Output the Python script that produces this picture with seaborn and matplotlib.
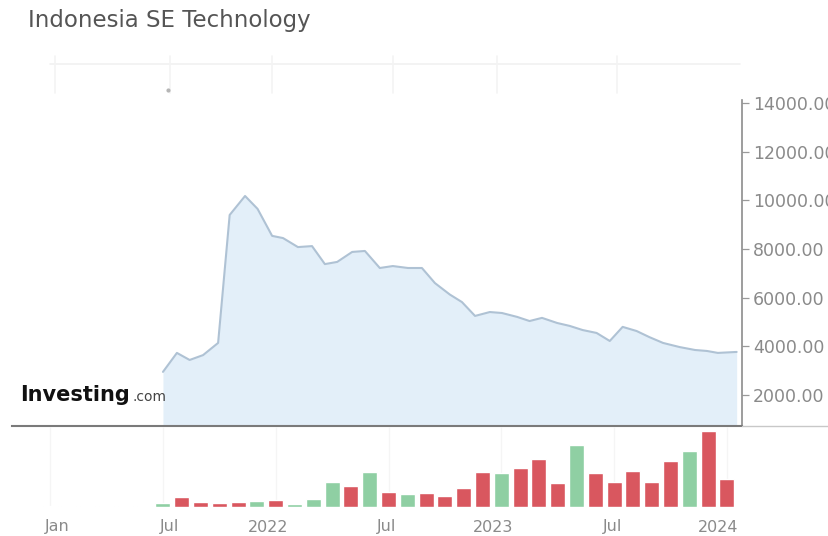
import matplotlib
matplotlib.use("Agg")
import matplotlib.pyplot as plt
import matplotlib.transforms as mtransforms
import numpy as np
import pandas as pd
import seaborn as sns
from matplotlib.lines import Line2D

# ---- data -------------------------------------------------------------
title = "Indonesia SE Technology"

price_dates = [
    "2021-07-01", "2021-07-24", "2021-08-14", "2021-09-05", "2021-09-29",
    "2021-10-18", "2021-11-12", "2021-12-02", "2021-12-26", "2022-01-13",
    "2022-02-06", "2022-02-27", "2022-03-20", "2022-04-09", "2022-05-03",
    "2022-05-24", "2022-06-17", "2022-07-08", "2022-08-02", "2022-08-25",
    "2022-09-15", "2022-10-09", "2022-10-29", "2022-11-19", "2022-12-13",
    "2023-01-02", "2023-01-27", "2023-02-15", "2023-03-06", "2023-03-31",
    "2023-04-20", "2023-05-11", "2023-06-03", "2023-06-24", "2023-07-15",
    "2023-08-07", "2023-08-28", "2023-09-19", "2023-10-16", "2023-11-10",
    "2023-11-29", "2023-12-17", "2024-01-17",
]
price_values = [
    2950, 3730, 3440, 3640, 4140,
    9400, 10180, 9650, 8540, 8450,
    8080, 8120, 7380, 7470, 7880,
    7920, 7220, 7300, 7220, 7220,
    6600, 6130, 5820, 5250, 5410,
    5370, 5210, 5040, 5170, 4960,
    4840, 4670, 4550, 4220, 4800,
    4630, 4380, 4140, 3970, 3850,
    3810, 3730, 3770,
]

volume_months = [
    "2021-01", "2021-02", "2021-03", "2021-04", "2021-05", "2021-06",
    "2021-07", "2021-08", "2021-09", "2021-10", "2021-11", "2021-12",
    "2022-01", "2022-02", "2022-03", "2022-04", "2022-05", "2022-06",
    "2022-07", "2022-08", "2022-09", "2022-10", "2022-11", "2022-12",
    "2023-01", "2023-02", "2023-03", "2023-04", "2023-05", "2023-06",
    "2023-07", "2023-08", "2023-09", "2023-10", "2023-11", "2023-12",
    "2024-01",
]
volume_values = [
    1, 1, 1, 1, 1, 1,
    4, 10, 5, 4, 5, 6,
    7, 3, 8, 25, 21, 35,
    15, 13, 14, 11, 19, 35,
    34, 39, 48, 24, 62, 34,
    25, 36, 25, 46, 56, 76,
    28,
]
volume_direction = [
    "flat", "flat", "flat", "flat", "flat", "flat",
    "up", "down", "down", "down", "down", "up",
    "down", "up", "up", "up", "down", "up",
    "down", "up", "down", "down", "down", "down",
    "up", "down", "down", "down", "up", "down",
    "down", "down", "down", "down", "up", "down",
    "down",
]

tick_months = ["2021-01", "2021-07", "2022-01", "2022-07", "2023-01", "2023-07", "2024-01"]
tick_labels = ["Jan", "Jul", "2022", "Jul", "2023", "Jul", "2024"]
price_ticks = [2000, 4000, 6000, 8000, 10000, 12000, 14000]


def month_pos(when):
    """Months elapsed since 1 July 2021 (fractional)."""
    ts = pd.Timestamp(when)
    return (ts.year - 2021) * 12 + (ts.month - 7) + (ts.day - 1) / ts.days_in_month


price_df = pd.DataFrame({"pos": [month_pos(d) for d in price_dates], "price": price_values})
vol_df = pd.DataFrame({
    "pos": [month_pos(m + "-01") for m in volume_months],
    "volume": volume_values,
    "direction": volume_direction,
})
tick_pos = [month_pos(m + "-01") for m in tick_months]

# ---- styling ------------------------------------------------------------
sns.set_theme(style="white")
plt.rcParams["font.family"] = ["DejaVu Sans"]

W, H = 829, 536
LINE = "#afc2d4"
FILL = "#e3eff9"
UP = "#8fcfa3"
DOWN = "#d9575f"
FLAT = "#d3dcd7"
TXT = "#8a8a8a"
GRID = "#f5f5f5"


def box(x0, y0, x1, y1):
    return [x0 / W, 1 - y1 / H, (x1 - x0) / W, (y1 - y0) / H]


fig = plt.figure(figsize=(W / 100, H / 100), dpi=100, facecolor="white")
ax_price = fig.add_axes(box(12, 100, 742, 426))
ax_vol = fig.add_axes(box(12, 427, 742, 507))

x_lo, x_hi = -8.03, 30.8
y_lo, y_hi = 726, 14125

# ---- price panel ------------------------------------------------------
ax_price.fill_between(price_df["pos"], price_df["price"], y_lo, color=FILL, lw=0, zorder=1)
sns.lineplot(data=price_df, x="pos", y="price", ax=ax_price, color=LINE, lw=1.5, zorder=2)

ax_price.set_xlim(x_lo, x_hi)
ax_price.set_ylim(y_lo, y_hi)
ax_price.set_xlabel("")
ax_price.set_ylabel("")
ax_price.set_xticks([])
ax_price.yaxis.tick_right()
ax_price.set_yticks(price_ticks, [f"{v:.2f}" for v in price_ticks])
ax_price.tick_params(axis="y", right=True, length=5, width=0.9, color="#9a9a9a",
                     pad=3, labelsize=12.5, labelcolor=TXT)
for side in ("left", "top"):
    ax_price.spines[side].set_visible(False)
ax_price.spines["right"].set_color("#8c8c8c")
ax_price.spines["right"].set_linewidth(1.2)
ax_price.spines["bottom"].set_color("#7a7a7a")
ax_price.spines["bottom"].set_linewidth(1.5)
ax_price.set_facecolor("none")

# ---- volume panel -----------------------------------------------------
for p in tick_pos:
    ax_vol.axvline(p, color=GRID, lw=1, zorder=0)
sns.barplot(data=vol_df, x="pos", y="volume", hue="direction",
            palette={"up": UP, "down": DOWN, "flat": FLAT},
            native_scale=True, width=0.8, dodge=False, legend=False,
            saturation=1, ax=ax_vol, zorder=2)
ax_vol.set_xlim(x_lo, x_hi)
ax_vol.set_ylim(0, 80)
ax_vol.set_xlabel("")
ax_vol.set_ylabel("")
ax_vol.set_yticks([])
ax_vol.set_xticks(tick_pos, tick_labels)
ax_vol.tick_params(axis="x", length=0, pad=9, labelsize=11.5, labelcolor=TXT)
# month names sit just right of their tick, year names just left
label_shift_px = [7, 7, -8, -2, -8, -2, -9]
for lbl, dx in zip(ax_vol.get_xticklabels(), label_shift_px):
    lbl.set_transform(lbl.get_transform()
                      + mtransforms.ScaledTranslation(dx / 100, 0, fig.dpi_scale_trans))
for side in ax_vol.spines:
    ax_vol.spines[side].set_visible(False)
ax_vol.set_facecolor("none")

# separator continuing past the price axis
fig.add_artist(Line2D([742 / W, 1], [1 - 426 / H] * 2, color="#c8c8c8", lw=1.0))

# faint range-navigator strip under the title
fig.add_artist(Line2D([50 / W, 740 / W], [1 - 64 / H] * 2, color="#f1f1f1", lw=1.2))
for xn in (55, 170, 272, 393, 497, 617):
    fig.add_artist(Line2D([xn / W] * 2, [1 - 56 / H, 1 - 93 / H], color="#f3f3f3", lw=1.2))
fig.add_artist(Line2D([168 / W], [1 - 90 / H], marker="o", ms=2, color="#b5b5b5", lw=0))

# ---- texts --------------------------------------------------------------
fig.text(28 / W, 1 - 21 / H, title, fontsize=16.5, color="#555555", va="center", ha="left")
fig.text(20 / W, 1 - 401 / H, "Investing", fontsize=15, fontweight="bold",
         color="#111111", va="baseline", ha="left")
fig.text(133 / W, 1 - 401 / H, ".com", fontsize=10, color="#444444", va="baseline", ha="left")

fig.savefig("out.png", dpi=100, facecolor="white")
